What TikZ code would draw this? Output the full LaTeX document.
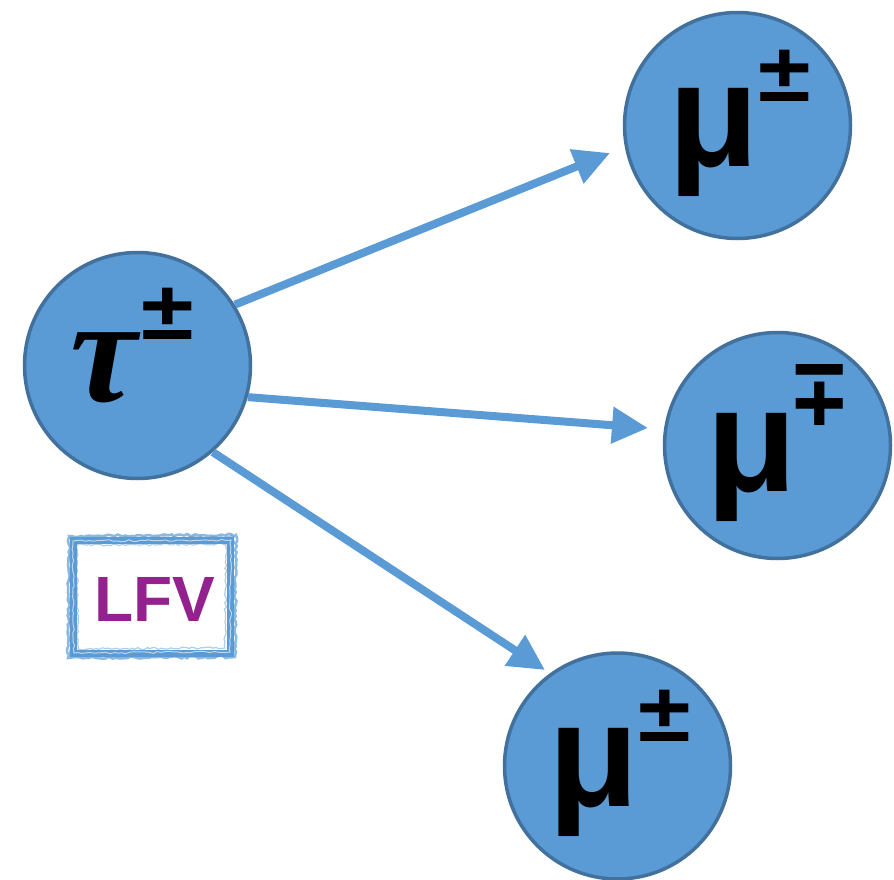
\documentclass[tikz,border=0pt]{standalone}
\usepackage{fontspec}
\setmainfont{Liberation Sans}
\newfontfamily\taufont{Liberation Serif}
\usepackage{graphicx}
\usetikzlibrary{arrows.meta,calc,decorations.pathmorphing}
\definecolor{ballfill}{HTML}{5B9BD5}
\definecolor{balledge}{HTML}{41719C}
\definecolor{arrowblue}{HTML}{5B9BD5}
\definecolor{lfvpurple}{HTML}{93228F}
\newcommand\bigfont{\fontsize{148}{150}\selectfont\bfseries}
\newcommand\supfont{\fontsize{92}{94}\selectfont\bfseries}
\newcommand\pmsign{\scalebox{1.04}[0.9]{±}}
\begin{document}
\begin{tikzpicture}[x=1pt,y=-1pt,
  ball/.style={circle,draw=balledge,fill=ballfill,line width=3.5pt,minimum size=226pt,inner sep=0pt},
  flow/.style={draw=arrowblue,line width=8pt,-{Triangle[length=36pt,width=35pt]}},
  txt/.style={inner sep=0pt,anchor=base west},
  brush/.style={arrowblue,decorate,decoration={random steps,segment length=3pt,amplitude=1.2pt}}]
\useasboundingbox (0,0) rectangle (894,880);
\node[ball] (tau) at (137.5,365.5) {};
\node[ball] (mua) at (737.5,125.5) {};
\node[ball] (mub) at (777.5,445.5) {};
\node[ball] (muc) at (617.5,766) {};
% labels
\node[txt] (taut) at (70,401) {\taufont\bfseries\itshape\fontsize{150}{152}\selectfont τ\kern5pt\raisebox{62pt}{\supfont\rmfamily\upshape\pmsign}};
\node[txt] (muat) at (668,166) {\bigfont μ\raisebox{65pt}{\supfont\pmsign}};
\node[txt] (mubt) at (706,491) {\bigfont μ\kern-3pt\raisebox{65pt}{\supfont\scalebox{1.02}[1.07]{\rotatebox[origin=c]{180}{±}}}};
\node[txt] (muct) at (548,806) {\bigfont μ\raisebox{65pt}{\supfont\pmsign}};
% arrows
\coordinate (tipa) at (610,153);
\coordinate (tipb) at (648,428);
\coordinate (tipc) at (545,670);
\draw[flow] (tau.32) -- (tipa);
\draw[flow] (tau.-16) -- (tipb);
\draw[flow] (tau.-49) -- (tipc);
% LFV box (brush-like frame)
\draw[arrowblue,line width=7pt] (73,540) rectangle (230,653);
\draw[brush,line width=2.5pt,opacity=.7] (69,536) -- (236,535) -- (235,657) -- (68,658) -- cycle;
\draw[brush,line width=2pt,opacity=.6] (71,539) -- (233,537) -- (232,655) -- (71,656) -- cycle;
\draw[white,line width=1pt,opacity=.6,decorate,decoration={random steps,segment length=4pt,amplitude=1pt}] (73,541) -- (231,540) -- (230,652) -- (74,653) -- cycle;
\draw[brush,line width=1.2pt,opacity=.5] (77,545) -- (226,544) -- (225,648) -- (78,649) -- cycle;
\node[inner sep=0pt,anchor=base,text=lfvpurple,font=\fontsize{64}{66}\selectfont\bfseries] (lfv) at (154.5,621) {LFV};
\end{tikzpicture}
\end{document}
